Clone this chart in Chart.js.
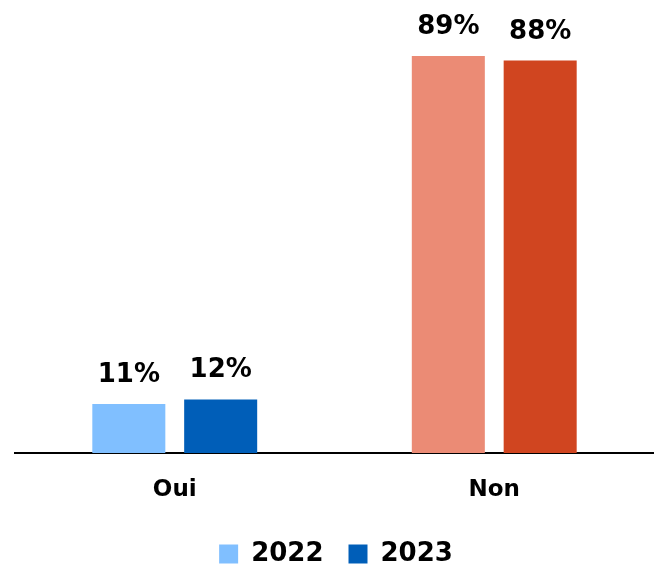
<!DOCTYPE html>
<html>
<head>
<meta charset="utf-8">
<script src="https://cdn.jsdelivr.net/npm/chart.js@4.4.1/dist/chart.umd.min.js"></script>
<style>
  body { margin: 0; background: #fff; }
  #wrap { width: 654px; height: 577px; }
</style>
</head>
<body>
<div id="wrap"><canvas id="barChart"></canvas></div>
<script>
const categories = ['Oui', 'Non'];
const years = ['2022', '2023'];
const values2022 = [11, 89];
const values2023 = [12, 88];
const colors2022 = ['#80BFFF', '#EB8B75'];
const colors2023 = ['#005EB8', '#D04520'];

const FONT = '"DejaVu Sans", sans-serif';

// draws the % value above each bar
const valueLabels = {
  id: 'valueLabels',
  afterDatasetsDraw(chart) {
    const ctx = chart.ctx;
    ctx.save();
    ctx.font = 'bold 26px ' + FONT;
    ctx.fillStyle = '#000';
    ctx.textAlign = 'center';
    ctx.textBaseline = 'alphabetic';
    chart.data.datasets.forEach((ds, i) => {
      chart.getDatasetMeta(i).data.forEach((bar, j) => {
        ctx.fillText(ds.data[j] + '%', bar.x, bar.y - 22);
      });
    });
    ctx.restore();
  }
};

const ctx = document.getElementById('barChart').getContext('2d');
new Chart(ctx, {
  type: 'bar',
  data: {
    labels: categories,
    datasets: [{
      label: years[0],
      data: values2022,
      backgroundColor: colors2022
    }, {
      label: years[1],
      data: values2023,
      backgroundColor: colors2023
    }]
  },
  options: {
    responsive: true,
    maintainAspectRatio: false,
    animation: false,
    categoryPercentage: 0.575,
    barPercentage: 0.795,
    layout: { padding: { top: 7, left: 15, right: -3, bottom: 0 } },
    plugins: {
      tooltip: { enabled: false },
      legend: {
        position: 'bottom',
        labels: {
          boxWidth: 19,
          boxHeight: 19,
          padding: 25,
          color: '#000',
          font: { family: FONT, size: 26, weight: 'bold' },
          generateLabels(chart) {
            return chart.data.datasets.map((ds, i) => ({
              text: ds.label,
              fillStyle: ds.backgroundColor[0],
              strokeStyle: ds.backgroundColor[0],
              lineWidth: 0,
              datasetIndex: i
            }));
          }
        }
      }
    },
    scales: {
      y: {
        display: false,
        min: 0,
        max: 100
      },
      x: {
        grid: { display: false },
        border: { display: true, color: '#000', width: 2 },
        ticks: {
          color: '#000',
          padding: 15,
          font: { family: FONT, size: 23, weight: 'bold' }
        },
        afterFit(scale) {
          scale.height = 63;
        }
      }
    }
  },
  plugins: [valueLabels]
});
</script>
</body>
</html>
